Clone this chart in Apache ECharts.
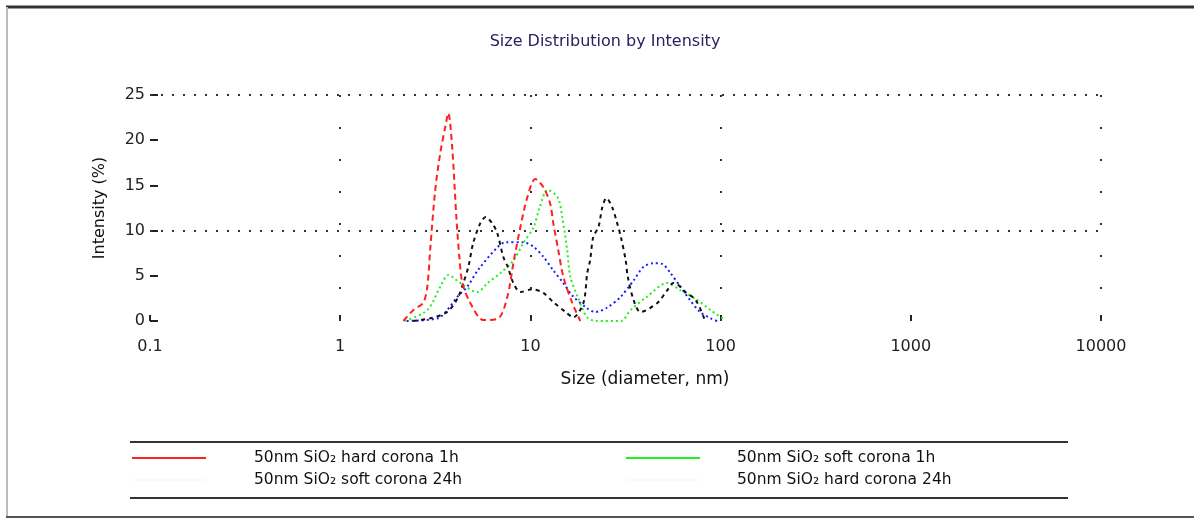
<!DOCTYPE html>
<html>
<head>
<meta charset="utf-8">
<script src="https://cdn.jsdelivr.net/npm/echarts@6/dist/echarts.min.js"></script>
<style>html,body{margin:0;padding:0;background:#fff;}#c{width:1194px;height:519px;}</style>
</head>
<body>
<div id="c"></div>
<script>
var seriesNames = ['50nm SiO₂ hard corona 1h', '50nm SiO₂ soft corona 24h', '50nm SiO₂ soft corona 1h', '50nm SiO₂ hard corona 24h'];
var xTickLabels = ['0.1', '1', '10', '100', '1000', '10000'];
var yTicks = [0, 5, 10, 15, 20, 25];
var gridY = [10, 25];
var gridX = [1, 10, 100, 10000];

var redSize = [2.15,2.42,2.73,2.87,2.98,3.16,3.36,3.57,3.70,3.88,4.08,4.23,4.39,4.83,5.66,6.79,7.57,8.14,8.86,9.64,10.6,11.7,12.7,13.2,14.0,14.9,16.6,18.3];
var redVal  = [0,1.2,2.0,3.8,8.2,14.5,18.6,21.5,23.0,19.2,11.5,7.1,4.2,2.0,0.1,0.3,2.7,6.4,10.4,13.7,15.7,14.8,13.0,10.8,7.9,4.9,2.0,0];

var blueSize = [2.24,3.26,3.65,4.14,4.66,5.29,6.6,7.4,9.17,10.4,11.7,13.2,14.9,16.8,19.9,21.9,25.4,29.9,34.9,39.4,44.4,49.5,54.5,61.4,69.1,77.9,88.6,96];
var blueVal  = [0,0.3,1.2,2.7,3.8,5.6,8.0,8.7,8.7,8.2,7.1,5.6,4.2,2.7,1.4,1.0,1.5,2.7,4.5,6.0,6.4,6.3,5.3,3.8,2.3,1.0,0.3,0];

var greenSize = [2.19,2.87,3.36,3.70,4.28,5.26,5.95,6.95,8.14,9.17,10.4,11.2,12.3,13.9,14.7,15.6,16.2,17.7,19.9,22.3,29.9,33.6,41.1,52.4,61.4,75.6,88.6,104];
var greenVal  = [0,1.2,3.8,5.1,4.2,3.2,4.2,5.3,6.7,8.6,10.4,12.6,14.5,13.7,11.5,7.9,4.9,2.7,0.4,0,0,1.2,2.7,4.2,3.4,2.3,1.2,0.2];

var blackSize = [2.42,2.98,3.65,4.14,4.44,4.72,5.0,5.45,5.82,6.3,6.7,7.2,7.6,8.14,8.86,10.2,11.7,13.2,15.3,16.8,19.0,19.9,20.6,21.4,22.8,23.9,25.1,26.9,28.6,29.9,31.7,32.5,34.9,37.9,46.5,52.4,56.5,61.4,65.3,74.1,83];
var blackVal  = [0,0.3,1.0,2.5,4.2,6.0,8.6,10.8,11.5,10.8,9.7,7.1,6.0,4.2,3.2,3.5,3.1,2.1,1.0,0.4,2.0,5.3,6.7,9.3,10.4,12.6,13.6,12.6,10.8,9.3,6.7,4.9,2.3,1.0,2.0,3.4,4.2,3.8,3.2,2.3,0];

function pairs(xs, ys) { return xs.map(function (x, i) { return [x, ys[i]]; }); }

var chart = echarts.init(document.getElementById('c'), null, {renderer: 'canvas'});
var font = '"DejaVu Sans", sans-serif';

var option = {
  backgroundColor: '#fff',
  animation: false,
  title: [
    {text: 'Size Distribution by Intensity', left: 600, top: 29, textAlign: 'center',
     textStyle: {fontFamily: font, fontSize: 16, fontWeight: 'normal', color: '#2b2060'}},
    {text: 'Size (diameter, nm)', left: 640, top: 366, textAlign: 'center',
     textStyle: {fontFamily: font, fontSize: 17, fontWeight: 'normal', color: '#111'}}
  ],
  grid: {left: 150, right: 93, top: 95, bottom: 198},
  xAxis: {
    type: 'log', logBase: 10, min: 0.1, max: 10000,
    axisLine: {show: false},
    axisTick: {show: true, inside: true, length: 6, lineStyle: {color: '#222', width: 2}},
    splitLine: {show: false},
    axisLabel: {margin: 18, fontFamily: font, fontSize: 16, color: '#222',
      formatter: function (v) { var i = Math.round(Math.log10(v)) + 1; return xTickLabels[i] || ''; }}
  },
  yAxis: {
    type: 'value', min: 0, max: 25, interval: 5,
    name: 'Intensity (%)', nameLocation: 'middle', nameRotate: 90, nameGap: 42,
    nameTextStyle: {fontFamily: font, fontSize: 16, color: '#111'},
    axisLine: {show: false},
    axisTick: {show: true, inside: true, length: 8, lineStyle: {color: '#222', width: 2}},
    splitLine: {show: false},
    axisLabel: {margin: 5, fontFamily: font, fontSize: 16, color: '#222',
      formatter: function (v) { return yTicks.indexOf(v) >= 0 ? String(v) : ''; }}
  },
  legend: [
    {left: 126, top: 445, orient: 'vertical', itemWidth: 74, itemHeight: 14, itemGap: 6,
     textStyle: {fontFamily: font, fontSize: 15.5, color: '#111', padding: [0, 0, 0, 43]},
     data: [
       {name: seriesNames[0], itemStyle: {opacity: 0}, lineStyle: {color: '#ff2020', type: 'solid', width: 2}},
       {name: seriesNames[1], itemStyle: {opacity: 0}, lineStyle: {color: '#fffbe8', type: 'solid', width: 2}}
     ]},
    {left: 620, top: 445, orient: 'vertical', itemWidth: 74, itemHeight: 14, itemGap: 6,
     textStyle: {fontFamily: font, fontSize: 15.5, color: '#111', padding: [0, 0, 0, 32]},
     data: [
       {name: seriesNames[2], itemStyle: {opacity: 0}, lineStyle: {color: '#22ee22', type: 'solid', width: 2}},
       {name: seriesNames[3], itemStyle: {opacity: 0}, lineStyle: {color: '#fffbe8', type: 'solid', width: 2}}
     ]}
  ],
  graphic: [
    {type: 'line', shape: {x1: 6, y1: 7, x2: 1194, y2: 7}, style: {stroke: '#333', lineWidth: 3}},
    {type: 'line', shape: {x1: 7, y1: 7, x2: 7, y2: 517}, style: {stroke: '#bbb', lineWidth: 2}},
    {type: 'line', shape: {x1: 6, y1: 517, x2: 1194, y2: 517}, style: {stroke: '#555', lineWidth: 2}},
    {type: 'line', shape: {x1: 130, y1: 442, x2: 1068, y2: 442}, style: {stroke: '#333', lineWidth: 2}},
    {type: 'line', shape: {x1: 130, y1: 498, x2: 1068, y2: 498}, style: {stroke: '#333', lineWidth: 2}}
  ],
  series: [
    {name: seriesNames[0], type: 'line', symbol: 'none', smooth: 0.3, data: pairs(redSize, redVal),
     color: '#ff2020', lineStyle: {color: '#ff2020', width: 2, type: [6, 4]}, z: 4,
     markLine: {silent: true, symbol: 'none', label: {show: false},
       data: gridY.map(function (v) { return {yAxis: v, lineStyle: {color: '#333', width: 2, type: [2, 9]}}; })
         .concat(gridX.map(function (v) { return {xAxis: v, lineStyle: {color: '#333', width: 2, type: [2, 30]}}; }))}},
    {name: seriesNames[1], type: 'line', symbol: 'none', smooth: 0.3, data: pairs(blueSize, blueVal),
     color: '#1a1aff', lineStyle: {color: '#1a1aff', width: 2, type: [2, 3]}, z: 3},
    {name: seriesNames[2], type: 'line', symbol: 'none', smooth: 0.3, data: pairs(greenSize, greenVal),
     color: '#22ee22', lineStyle: {color: '#22ee22', width: 2, type: [2, 3]}, z: 3},
    {name: seriesNames[3], type: 'line', symbol: 'none', smooth: 0.3, data: pairs(blackSize, blackVal),
     color: '#111', lineStyle: {color: '#111', width: 2, type: [4, 4]}, z: 3}
  ]
};
chart.setOption(option);
</script>
</body>
</html>
